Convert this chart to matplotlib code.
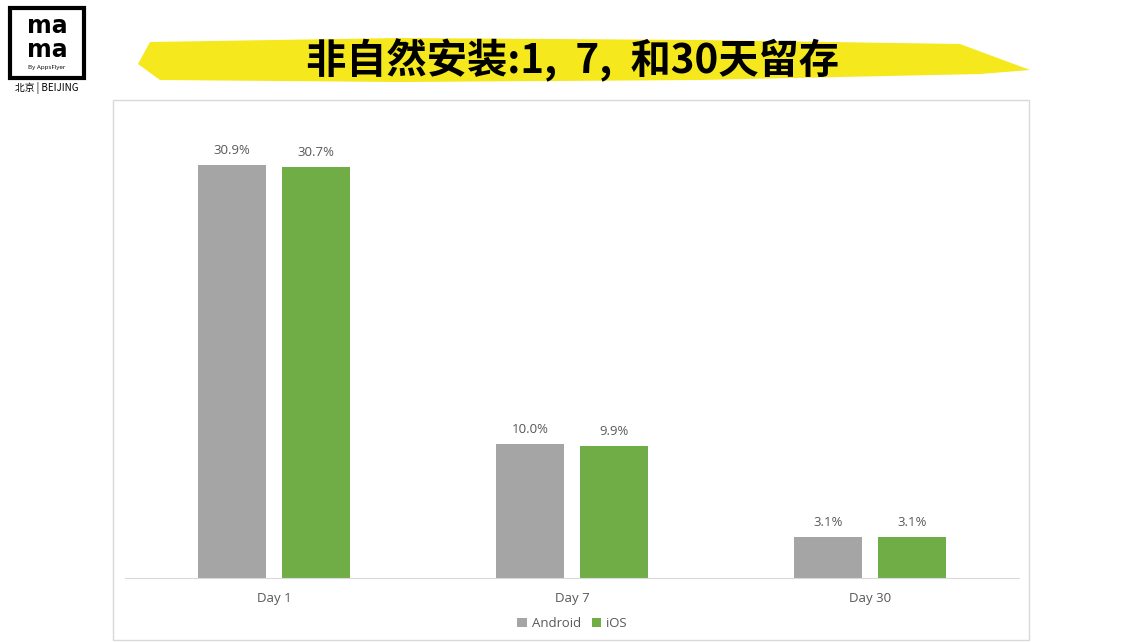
import matplotlib
matplotlib.use("Agg")
import matplotlib.pyplot as plt
import numpy as np
from matplotlib.patches import Rectangle, Polygon

plt.rcParams["font.family"] = ["Open Sans", "Noto Sans CJK SC"]

categories = ["Day 1", "Day 7", "Day 30"]
android = [30.9, 10.0, 3.1]
ios = [30.7, 9.9, 3.1]
title = "非自然安装:1, 7, 和30天留存"

C_AND = "#A5A5A5"
C_IOS = "#70AD47"

W, H = 1147, 642
fig = plt.figure(figsize=(W / 100, H / 100), dpi=100)

# background overlay axes in pixel coords
bg = fig.add_axes([0, 0, 1, 1])
bg.set_xlim(0, W)
bg.set_ylim(H, 0)
bg.axis("off")

# chart frame
bg.add_patch(Rectangle((113, 100), 916, 540, facecolor="white",
                       edgecolor="#D9D9D9", linewidth=1))

# yellow brush stroke behind title
brush = [(150, 42), (400, 38), (700, 40), (960, 44), (1030, 70), (980, 74),
         (700, 80), (400, 82), (160, 80), (138, 64)]
bg.add_patch(Polygon(brush, closed=True, facecolor="#F5E81C", edgecolor="none"))
bg.text(573, 60, title.replace(", ", ",  "), ha="center", va="center",
        fontsize=29, fontweight="bold", family="Noto Sans CJK SC", color="black")

# logo
bg.add_patch(Rectangle((10, 8), 74, 70, facecolor="white", edgecolor="black",
                       linewidth=3))
bg.text(47, 26, "ma", ha="center", va="center", fontsize=17, fontweight="bold",
        color="black", family="DejaVu Sans")
bg.text(47, 50, "ma", ha="center", va="center", fontsize=17, fontweight="bold",
        color="black", family="DejaVu Sans")
bg.text(47, 67, "By AppsFlyer", ha="center", va="center", fontsize=4.5,
        color="black")
bg.text(47, 88, "北京 | BEIJING", ha="center", va="center", fontsize=7,
        family="Noto Sans CJK SC", color="black")

ax = fig.add_axes([125 / W, (H - 578) / H, 894 / W, 468 / H])
x = np.arange(len(categories))
bw, off = 0.225, 0.141
b1 = ax.bar(x - off, android, bw, color=C_AND, label="Android")
b2 = ax.bar(x + off, ios, bw, color=C_IOS, label="iOS")
for bars, vals in ((b1, android), (b2, ios)):
    for b, v in zip(bars, vals):
        ax.text(b.get_x() + b.get_width() / 2, v + 0.6, f"{v:.1f}%",
                ha="center", va="bottom", fontsize=9.5, color="#595959")
ax.set_xlim(-0.5, 2.5)
ax.set_ylim(0, 35)
ax.set_xticks(x)
ax.set_xticklabels(categories, fontsize=9.5, color="#595959")
ax.tick_params(axis="x", length=0, pad=10)
ax.set_yticks([])
for s in ("top", "left", "right"):
    ax.spines[s].set_visible(False)
ax.spines["bottom"].set_color("#D9D9D9")
ax.patch.set_alpha(0)
ax.legend(loc="center", bbox_to_anchor=(0.5, -0.098), ncol=2, frameon=False,
          fontsize=9.5, handlelength=0.7, handleheight=0.7, columnspacing=0.8,
          handletextpad=0.4, labelcolor="#595959")

fig.savefig("out.png", dpi=100, facecolor="white")
